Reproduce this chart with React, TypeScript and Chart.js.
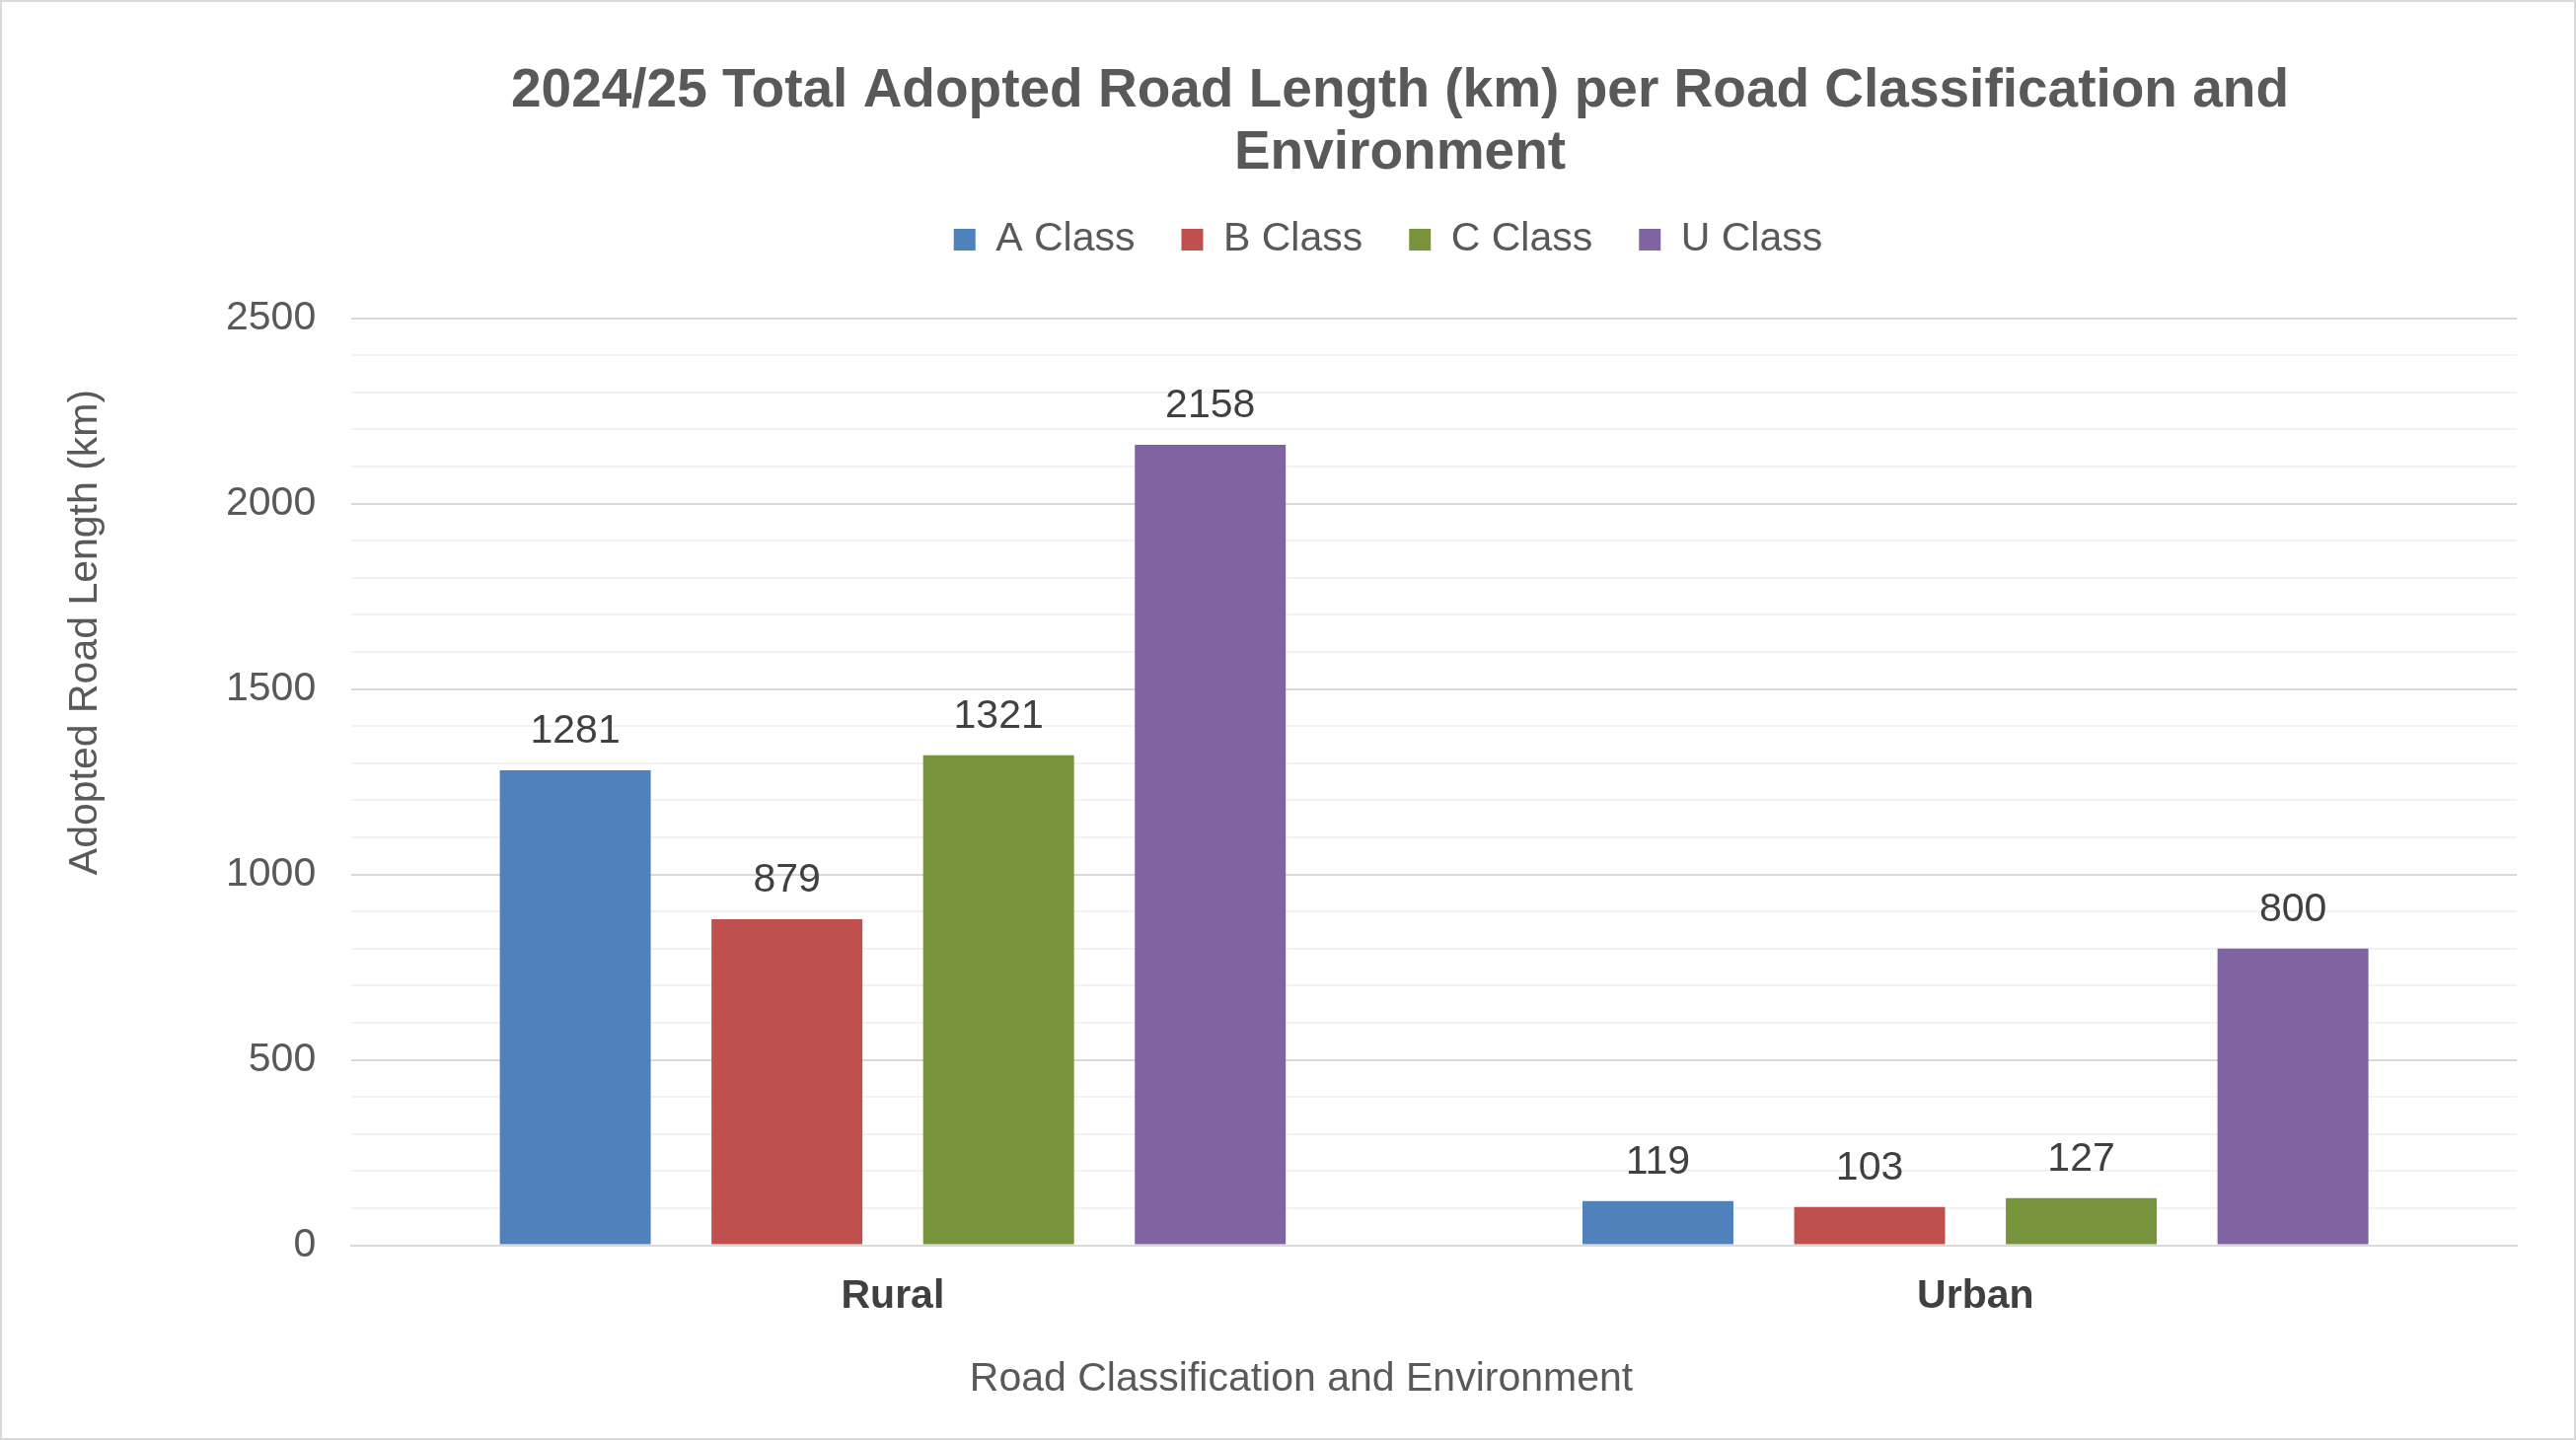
import { useEffect, useRef } from 'react'
import { Chart, registerables } from 'chart.js'

Chart.register(...registerables)

const categories = ['Rural', 'Urban']
const seriesNames = ['A Class', 'B Class', 'C Class', 'U Class']
const aClass = [1281, 119]
const bClass = [879, 103]
const cClass = [1321, 127]
const uClass = [2158, 800]
const seriesColors = ['#4F81BD', '#C0504D', '#77933C', '#8064A2']
const yTickLabels = [0, 500, 1000, 1500, 2000, 2500]

const FONT = '"Liberation Sans", Arial, sans-serif'
const TEXT = '#595959'

// value labels above every bar
const barLabels = {
  id: 'barLabels',
  afterDatasetsDraw(chart: Chart) {
    const ctx = chart.ctx
    ctx.save()
    ctx.font = `41px ${FONT}`
    ctx.fillStyle = '#404040'
    ctx.textAlign = 'center'
    ctx.textBaseline = 'bottom'
    chart.data.datasets.forEach((ds, i) => {
      const meta = chart.getDatasetMeta(i)
      meta.data.forEach((bar: any, j) => {
        ctx.fillText(String(ds.data[j]), bar.x, bar.y - 19)
      })
    })
    ctx.restore()
  },
}

// the original's y title sits above the middle of the axis, so it is drawn here
const yTitle = {
  id: 'yTitle',
  afterDraw(chart: Chart) {
    const ctx = chart.ctx
    ctx.save()
    ctx.translate(85, 639)
    ctx.rotate(-Math.PI / 2)
    ctx.font = `41px ${FONT}`
    ctx.fillStyle = TEXT
    ctx.textAlign = 'center'
    ctx.textBaseline = 'middle'
    ctx.fillText('Adopted Road Length (km)', 0, 0)
    ctx.restore()
  },
}

// extra room under the legend, and nudge title / legend / x title to the original's centres
const headerTweaks = {
  id: 'headerTweaks',
  beforeInit(chart: any) {
    const fit = chart.legend.fit
    chart.legend.fit = function () {
      fit.bind(chart.legend)()
      this.height += 23
    }
  },
  afterLayout(chart: any) {
    const shift = (box: any, centre: number, dy = 0) => {
      if (!box) return
      const dx = centre - (box.left + box.right) / 2
      box.left += dx
      box.right += dx
      box.top += dy
      box.bottom += dy
    }
    shift(chart.titleBlock, 1417)
    shift(chart.legend, 1405, -26)
    const sub = chart.boxes.find((b: any) => b.options && b.options.position === 'bottom' && b.type === undefined && b !== chart.legend && b !== chart.titleBlock && !b.axis)
    shift(sub, 1317)
  },
}

export default function App() {
  const chartRef = useRef<HTMLCanvasElement>(null)
  const chartInstance = useRef<Chart | null>(null)

  useEffect(() => {
    if (!chartRef.current) return
    if (chartInstance.current) chartInstance.current.destroy()

    const values = [aClass, bClass, cClass, uClass]

    chartInstance.current = new Chart(chartRef.current, {
      type: 'bar',
      data: {
        labels: categories,
        datasets: seriesNames.map((name, i) => ({
          label: name,
          data: values[i],
          backgroundColor: seriesColors[i],
          borderWidth: 0,
          categoryPercentage: 0.782,
          barPercentage: 0.713,
        })),
      },
      plugins: [barLabels, yTitle, headerTweaks],
      options: {
        animation: false,
        responsive: true,
        maintainAspectRatio: false,
        layout: {
          padding: { top: 59, right: 58, bottom: 35, left: 191 },
        },
        plugins: {
          title: {
            display: true,
            text: ['2024/25 Total Adopted Road Length (km) per Road Classification and', 'Environment'],
            color: TEXT,
            font: { family: FONT, size: 55, weight: 'bold', lineHeight: 1.15 },
            padding: { top: 0, bottom: 14 },
          },
          subtitle: {
            display: true,
            position: 'bottom',
            text: 'Road Classification and Environment',
            color: TEXT,
            font: { family: FONT, size: 41, weight: 'normal', lineHeight: 1.2 },
            padding: { top: 16, bottom: 0 },
          },
          legend: {
            position: 'top',
            labels: {
              color: TEXT,
              font: { family: FONT, size: 41 },
              boxWidth: 22,
              boxHeight: 22,
              padding: 47,
            },
          },
          tooltip: { enabled: false },
        },
        scales: {
          x: {
            grid: { display: false },
            border: { color: '#D9D9D9', width: 2 },
            ticks: {
              color: '#404040',
              font: { family: FONT, size: 41, weight: 'bold' },
              padding: 19,
            },
          },
          y: {
            min: yTickLabels[0],
            max: yTickLabels[yTickLabels.length - 1],
            border: { display: false },
            grid: {
              color: (c: any) => (c.tick.value % 500 === 0 ? '#D9D9D9' : '#F2F2F2'),
              lineWidth: 2,
              drawTicks: false,
            },
            ticks: {
              stepSize: 100,
              autoSkip: false,
              color: TEXT,
              font: { family: FONT, size: 41 },
              padding: 36,
              callback: (v: any) => (yTickLabels.includes(Number(v)) ? String(v) : ''),
            },
          },
        },
      },
    })

    return () => {
      if (chartInstance.current) {
        chartInstance.current.destroy()
        chartInstance.current = null
      }
    }
  }, [])

  return (
    <div
      style={{
        position: 'absolute',
        left: 0,
        top: 0,
        width: 2611,
        height: 1460,
        boxSizing: 'border-box',
        border: '2px solid #D9D9D9',
        background: '#fff',
      }}
    >
      <canvas ref={chartRef}></canvas>
    </div>
  )
}
